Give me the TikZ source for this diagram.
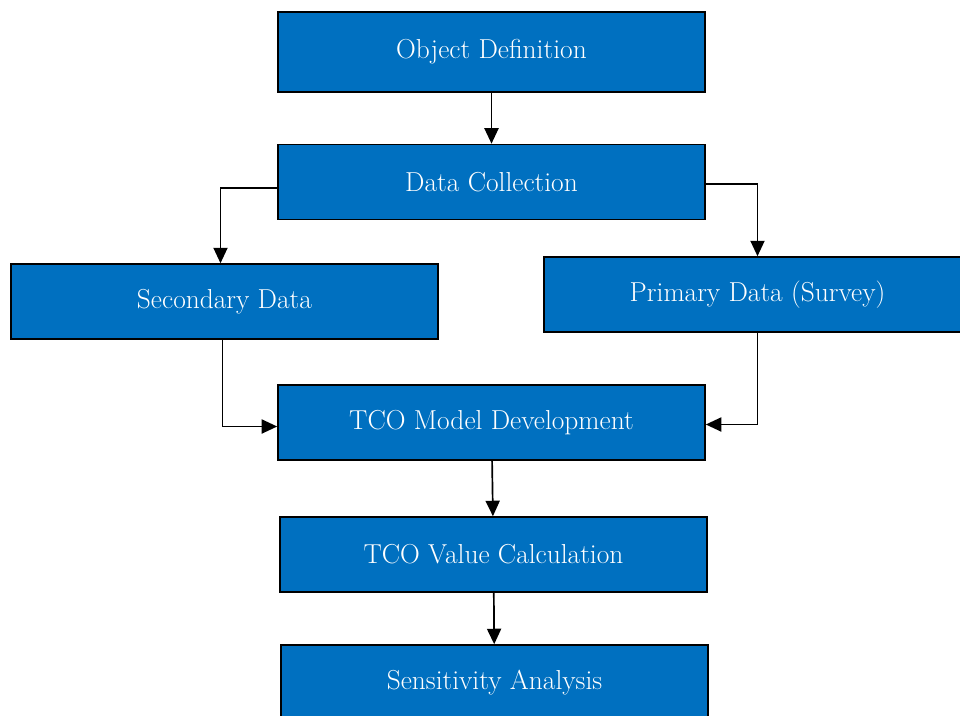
\documentclass[tikz,border=0pt]{standalone}
\usepackage{tikz}
\usetikzlibrary{arrows.meta,calc}
\definecolor{boxblue}{HTML}{0070C0}
\tikzset{
	stagebox/.style={draw=black, line width=1.1pt, fill=boxblue, text=white, inner sep=0pt,
		minimum width=10.675cm, minimum height=1.875cm, font=\fontsize{19.5}{23}\selectfont},
	flow/.style={line width=1.2pt, -{Triangle[length=11pt,width=10pt]}}
}

\begin{document}
\begin{tikzpicture}[x=0.025cm, y=-0.025cm]
		%%%%% START %%%%%
		\useasboundingbox (0, 0) rectangle (960, 716);
		\clip (0, 0) rectangle (960, 716);
		
		\node[stagebox, minimum height=2cm] (obj) at (491.5, 52) {Object Definition};
		\node[stagebox] (dc) at (491.5, 182) {Data Collection};
		\node[stagebox] (sd) at (224.5, 301.5) {Secondary Data};
		\node[stagebox] (pd) at (757.5, 294.5) {Primary Data (Survey)};
		\node[stagebox] (tco) at (491.5, 422.5) {TCO Model Development};
		\node[stagebox] (val) at (493.5, 554.5) {TCO Value Calculation};
		\node[stagebox] (sens) at (494.5, 682.5) {Sensitivity Analysis};
		
		\draw[flow] (obj) -- (dc);
		\draw[flow] ($(dc.west)+(0, 6)$) -| ($(sd.north)+(-4, 0)$);
		\draw[flow] ($(dc.east)+(0, 2)$) -| (pd.north);
		\draw[flow] ($(sd.south)+(-2, 0)$) |- ($(tco.west)+(0, 4)$);
		\draw[flow] (pd.south) |- ($(tco.east)+(0, 2)$);
		\draw[flow] (tco) -- (val);
		\draw[flow] (val) -- (sens);
		%%%%% END %%%%%
	\end{tikzpicture}
\end{document}
